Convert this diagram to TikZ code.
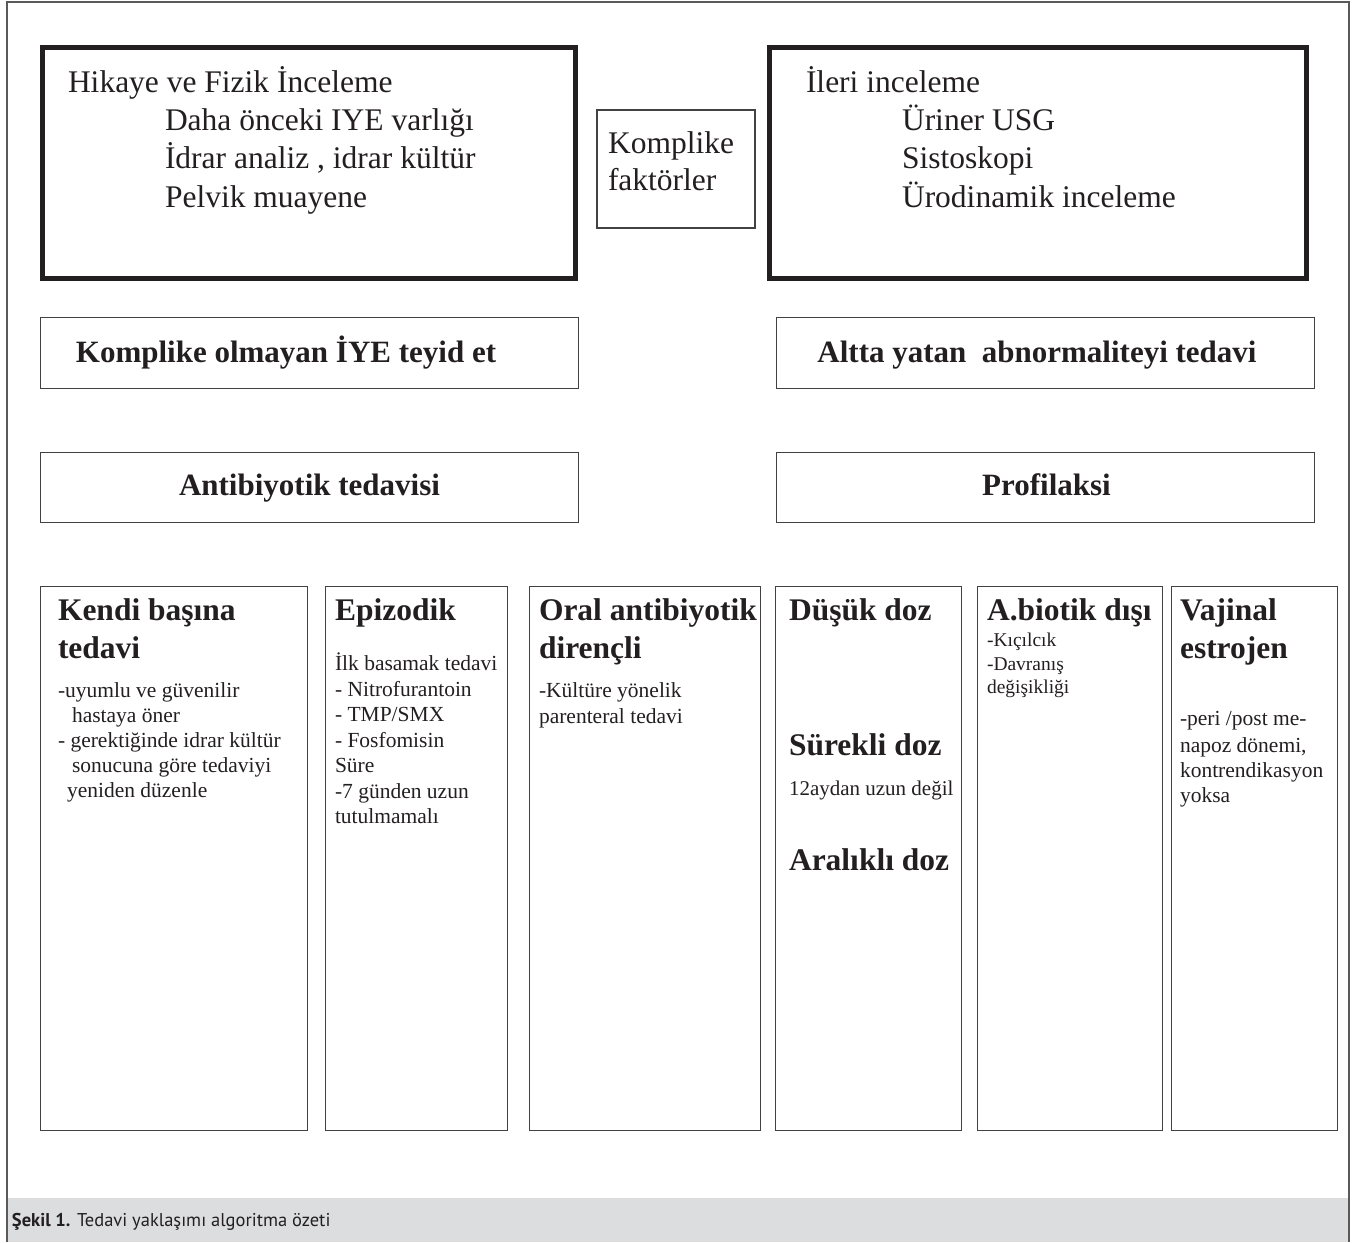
\documentclass[tikz,border=0pt]{standalone}
\usepackage{fontspec}
\setmainfont{Liberation Serif}
\newfontfamily\capfont{PT Sans}
\usetikzlibrary{fit}
\definecolor{ink}{HTML}{231F20}
\definecolor{capgray}{HTML}{DCDDDF}
\tikzset{
  thickbox/.style={draw=ink, line width=5pt, inner sep=0pt},
  thinbox/.style={draw=ink!85, line width=1.3pt, inner sep=0pt},
  txt/.style={anchor=base west, inner sep=0pt, outer sep=0pt, text=ink},
  topfont/.style={txt, font=\fontsize{31.5}{36}\selectfont},
  midfont/.style={txt, anchor=base, font=\bfseries\fontsize{31}{36}\selectfont},
  headfont/.style={txt, font=\bfseries\fontsize{31.5}{36}\selectfont},
  bodyfont/.style={txt, font=\fontsize{21.5}{25}\selectfont},
  smallfont/.style={txt, font=\fontsize{19.5}{24}\selectfont},
  notefont/.style={txt, font=\fontsize{21}{24}\selectfont},
  capfontstyle/.style={txt, font=\capfont\fontsize{18.5}{20}\selectfont},
}
\begin{document}
\begin{tikzpicture}[x=1pt,y=-1pt]
\useasboundingbox (0,0) rectangle (1357,1242);
% caption band
\fill[capgray] (7,1198) rectangle (1349,1242);
% outer frame
\coordinate (fbl) at (7,1242);
\coordinate (ftl) at (7,2);
\coordinate (ftr) at (1349,2);
\coordinate (fbr) at (1349,1242);
\draw[draw=black!65, line width=1.5pt] (fbl) -- (ftl) -- (ftr) -- (fbr);
\node[capfontstyle] (cap) at (12,1226) {\textbf{Şekil 1.} Tedavi yaklaşımı algoritma özeti};

% top boxes
\node[thickbox, fit={(42.5,47.5)(575.5,278.5)}] (hik) {};
\node[topfont] (h1) at (68,92) {Hikaye ve Fizik İnceleme};
\node[topfont] (h2) at (165,130) {Daha önceki IYE varlığı};
\node[topfont] (h3) at (165,168) {İdrar analiz , idrar kültür};
\node[topfont] (h4) at (165,207) {Pelvik muayene};

\node[thinbox, fit={(597,110)(755,228)}] (kf) {};
\node[topfont] (kf1) at (608,153) {Komplike};
\node[topfont] (kf2) at (608,190) {faktörler};

\node[thickbox, fit={(769.5,47.5)(1306.5,278.5)}] (ileri) {};
\node[topfont] (i1) at (806,92) {İleri inceleme};
\node[topfont] (i2) at (902,130) {Üriner USG};
\node[topfont] (i3) at (902,168) {Sistoskopi};
\node[topfont] (i4) at (902,207) {Ürodinamik inceleme};

% middle rows
\node[thinbox, fit={(40.5,317.5)(578.5,388.5)}] (kom) {};
\node[midfont] (komt) at (286,362) {Komplike olmayan İYE teyid et};
\node[thinbox, fit={(776.5,317.5)(1314.5,388.5)}] (alt) {};
\node[midfont] (altt) at (1037,362) {Altta yatan \ abnormaliteyi tedavi};
\node[thinbox, fit={(40.5,452.5)(578.5,522.5)}] (ant) {};
\node[midfont] (antt) at (309.5,495) {Antibiyotik tedavisi};
\node[thinbox, fit={(776.5,452.5)(1314.5,522.5)}] (pro) {};
\node[midfont] (prot) at (1046.5,495) {Profilaksi};

% bottom columns
\node[thinbox, fit={(40.5,586.5)(307.5,1130.5)}] (c1) {};
\node[headfont] (c1a) at (58,620) {Kendi başına};
\node[headfont] (c1b) at (58,658) {tedavi};
\node[bodyfont] (c1c) at (58,697) {-uyumlu ve güvenilir};
\node[bodyfont] (c1d) at (72,722) {hastaya öner};
\node[bodyfont] (c1e) at (58,747) {- gerektiğinde idrar kültür};
\node[bodyfont] (c1f) at (72,772) {sonucuna göre tedaviyi};
\node[bodyfont] (c1g) at (67,797) {yeniden düzenle};

\node[thinbox, fit={(325.5,586.5)(507.5,1130.5)}] (c2) {};
\node[headfont] (c2a) at (335,620) {Epizodik};
\node[bodyfont] (c2b) at (335,670) {İlk basamak tedavi};
\node[bodyfont] (c2c) at (335,696) {- Nitrofurantoin};
\node[bodyfont] (c2d) at (335,721) {- TMP/SMX};
\node[bodyfont] (c2e) at (335,747) {- Fosfomisin};
\node[bodyfont] (c2f) at (335,772) {Süre};
\node[bodyfont] (c2g) at (335,798) {-7 günden uzun};
\node[bodyfont] (c2h) at (335,823) {tutulmamalı};

\node[thinbox, fit={(529.5,586.5)(760.5,1130.5)}] (c3) {};
\node[headfont] (c3a) at (539,620) {Oral antibiyotik};
\node[headfont] (c3b) at (539,658) {dirençli};
\node[bodyfont] (c3c) at (539,697) {-Kültüre yönelik};
\node[bodyfont] (c3d) at (539,723) {parenteral tedavi};

\node[thinbox, fit={(775.5,586.5)(961.5,1130.5)}] (c4) {};
\node[headfont] (c4a) at (789,620) {Düşük doz};
\node[headfont] (c4b) at (789,755) {Sürekli doz};
\node[notefont] (c4c) at (789,795) {12aydan uzun değil};
\node[headfont] (c4d) at (789,870) {Aralıklı doz};

\node[thinbox, fit={(977.5,586.5)(1162.5,1130.5)}] (c5) {};
\node[headfont] (c5a) at (987,620) {A.biotik dışı};
\node[smallfont] (c5b) at (987,646) {-Kıçılcık};
\node[smallfont] (c5c) at (987,670) {-Davranış};
\node[smallfont] (c5d) at (987,693) {değişikliği};

\node[thinbox, fit={(1171.5,586.5)(1337.5,1130.5)}] (c6) {};
\node[headfont] (c6a) at (1180,620) {Vajinal};
\node[headfont] (c6b) at (1180,658) {estrojen};
\node[bodyfont] (c6c) at (1180,725) {-peri /post me-};
\node[bodyfont] (c6d) at (1180,752) {napoz dönemi,};
\node[bodyfont] (c6e) at (1180,777) {kontrendikasyon};
\node[bodyfont] (c6f) at (1180,802) {yoksa};
\end{tikzpicture}
\end{document}
